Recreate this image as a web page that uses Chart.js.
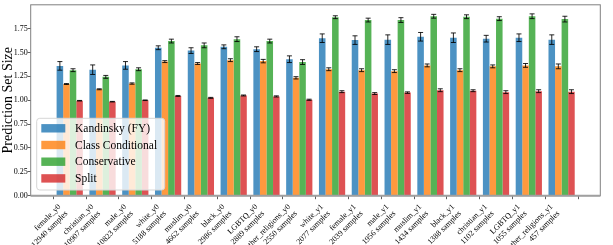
<!DOCTYPE html>
<html>
<head>
<meta charset="utf-8">
<script src="https://cdn.jsdelivr.net/npm/chart.js@4/dist/chart.umd.min.js"></script>
<style>
  html, body { margin: 0; padding: 0; background: #fff; }
  #wrap { width: 613px; height: 245px; }
</style>
</head>
<body>
<div id="wrap"><canvas id="c" width="613" height="245"></canvas></div>
<script>
// ---- data ----
const categories = [
  ["female_y0", "12940 samples"],
  ["christian_y0", "10907 samples"],
  ["male_y0", "10823 samples"],
  ["white_y0", "5188 samples"],
  ["muslim_y0", "4662 samples"],
  ["black_y0", "2986 samples"],
  ["LGBTQ_y0", "2889 samples"],
  ["other_religions_y0", "2550 samples"],
  ["white_y1", "2077 samples"],
  ["female_y1", "2039 samples"],
  ["male_y1", "1956 samples"],
  ["muslim_y1", "1434 samples"],
  ["black_y1", "1388 samples"],
  ["christian_y1", "1102 samples"],
  ["LGBTQ_y1", "1055 samples"],
  ["other_religions_y1", "457 samples"]
];
const seriesNames = ["Kandinsky (FY)", "Class Conditional", "Conservative", "Split"];
const kandinsky = [1.36, 1.32, 1.365, 1.55, 1.52, 1.56, 1.535, 1.43, 1.65, 1.63, 1.635, 1.665, 1.655, 1.645, 1.655, 1.635];
const kandinskyErr = [0.045, 0.05, 0.04, 0.02, 0.03, 0.02, 0.025, 0.035, 0.045, 0.045, 0.05, 0.045, 0.05, 0.035, 0.04, 0.05];
const classCond = [1.17, 1.115, 1.175, 1.405, 1.385, 1.42, 1.41, 1.235, 1.325, 1.315, 1.305, 1.365, 1.315, 1.355, 1.365, 1.355];
const classCondErr = [0.005, 0.005, 0.007, 0.01, 0.01, 0.015, 0.018, 0.012, 0.015, 0.015, 0.015, 0.015, 0.015, 0.015, 0.02, 0.025];
const conservative = [1.315, 1.245, 1.325, 1.62, 1.575, 1.64, 1.62, 1.40, 1.87, 1.84, 1.84, 1.88, 1.875, 1.855, 1.88, 1.85];
const conservativeErr = [0.015, 0.015, 0.015, 0.02, 0.025, 0.025, 0.02, 0.025, 0.015, 0.02, 0.025, 0.02, 0.02, 0.02, 0.025, 0.03];
const split = [0.995, 0.985, 1.0, 1.045, 1.025, 1.05, 1.04, 1.005, 1.09, 1.07, 1.08, 1.105, 1.10, 1.085, 1.095, 1.09];
const splitErr = [0.003, 0.003, 0.003, 0.005, 0.005, 0.005, 0.006, 0.006, 0.01, 0.01, 0.008, 0.015, 0.01, 0.015, 0.015, 0.02];
const yTickValues = [0, 0.25, 0.5, 0.75, 1.0, 1.25, 1.5, 1.75];

const values = [kandinsky, classCond, conservative, split];
const errors = [kandinskyErr, classCondErr, conservativeErr, splitErr];
const colors = ["rgba(31,119,180,0.8)", "rgba(255,127,14,0.8)", "rgba(44,160,44,0.8)", "rgba(214,39,40,0.8)"];

const SERIF = "'Liberation Serif', 'DejaVu Serif', serif";

const datasets = seriesNames.map((name, s) => ({
  label: name,
  data: values[s].map((v, i) => ({ x: i, y: v })),
  errors: errors[s],
  backgroundColor: colors[s],
  borderWidth: 0,
  categoryPercentage: 0.8,
  barPercentage: 1.0
}));

const errorBars = {
  id: 'errorBars',
  afterDatasetsDraw(chart) {
    const ctx = chart.ctx;
    const y = chart.scales.y;
    ctx.save();
    chart.data.datasets.forEach((ds, di) => {
      const meta = chart.getDatasetMeta(di);
      meta.data.forEach((el, i) => {
        const v = ds.data[i].y, e = ds.errors[i];
        const x = el.x;
        const y1 = y.getPixelForValue(v - e), y2 = y.getPixelForValue(v + e);
        ctx.strokeStyle = 'rgba(0,0,0,0.85)';
        ctx.lineWidth = 1;
        ctx.beginPath();
        ctx.moveTo(x, y1); ctx.lineTo(x, y2);
        ctx.moveTo(x - 2.5, y1); ctx.lineTo(x + 2.5, y1);
        ctx.moveTo(x - 2.5, y2); ctx.lineTo(x + 2.5, y2);
        ctx.stroke();
      });
    });
    ctx.restore();
  }
};

const frameAndLegend = {
  id: 'frameAndLegend',
  afterDraw(chart) {
    const ctx = chart.ctx;
    const a = chart.chartArea;
    ctx.save();
    // frame
    ctx.strokeStyle = '#808080';
    ctx.lineWidth = 1;
    ctx.strokeRect(a.left, a.top, a.right - a.left, a.bottom - a.top);
    ctx.strokeStyle = '#a0a0a0';
    ctx.lineWidth = 2;
    ctx.beginPath(); ctx.moveTo(a.left, a.bottom); ctx.lineTo(a.right, a.bottom); ctx.stroke();
    // legend
    const bx = a.left + 6, by = 118.3, bw = 128, bh = 71.7, r = 3;
    ctx.beginPath();
    ctx.moveTo(bx + r, by);
    ctx.arcTo(bx + bw, by, bx + bw, by + bh, r);
    ctx.arcTo(bx + bw, by + bh, bx, by + bh, r);
    ctx.arcTo(bx, by + bh, bx, by, r);
    ctx.arcTo(bx, by, bx + bw, by, r);
    ctx.closePath();
    ctx.fillStyle = 'rgba(255,255,255,0.8)';
    ctx.fill();
    ctx.strokeStyle = '#d6d6d6';
    ctx.lineWidth = 1;
    ctx.stroke();
    ctx.font = '11.5px ' + SERIF;
    ctx.textBaseline = 'middle';
    ctx.textAlign = 'left';
    chart.data.datasets.forEach((ds, i) => {
      const cy = 128.3 + i * 16.7;
      ctx.fillStyle = ds.backgroundColor;
      ctx.fillRect(bx + 4.6, cy - 4.2, 24, 8.4);
      ctx.fillStyle = '#000';
      ctx.fillText(ds.label, bx + 38.3, cy + 0.5);
    });
    ctx.restore();
  }
};

new Chart(document.getElementById('c'), {
  type: 'bar',
  data: { datasets },
  plugins: [errorBars, frameAndLegend],
  options: {
    responsive: false,
    animation: false,
    layout: { padding: { left: 0, right: 12.7, top: 4.3, bottom: 0 } },
    plugins: { legend: { display: false }, tooltip: { enabled: false } },
    scales: {
      x: {
        type: 'linear',
        min: -1.19,
        max: 16.18,
        offset: false,
        afterBuildTicks(axis) { axis.ticks = categories.map((_, i) => ({ value: i })); },
        afterFit(scale) { scale.height = 49.3; },
        grid: { display: true, drawOnChartArea: false, drawTicks: true, tickLength: 3.5, color: '#333', lineWidth: 0.8 },
        border: { display: false },
        ticks: {
          autoSkip: false,
          minRotation: 45,
          maxRotation: 45,
          padding: 3,
          labelOffset: -10,
          color: '#000',
          font: { family: SERIF, size: 8 },
          callback: (v) => categories[Math.round(v)]
        }
      },
      y: {
        min: 0,
        max: 2.0,
        afterBuildTicks(axis) { axis.ticks = yTickValues.map(v => ({ value: v })); },
        afterFit(scale) { scale.width = 30.7; },
        grid: { display: true, drawOnChartArea: false, drawTicks: true, tickLength: 3, color: '#333', lineWidth: 0.8 },
        border: { display: false },
        ticks: {
          padding: 0,
          color: '#000',
          font: { family: SERIF, size: 8 },
          callback: (v) => v.toFixed(2)
        },
        title: {
          display: true,
          text: 'Prediction Set Size',
          color: '#000',
          padding: 0,
          font: { family: SERIF, size: 14 }
        }
      }
    }
  }
});
</script>
</body>
</html>
